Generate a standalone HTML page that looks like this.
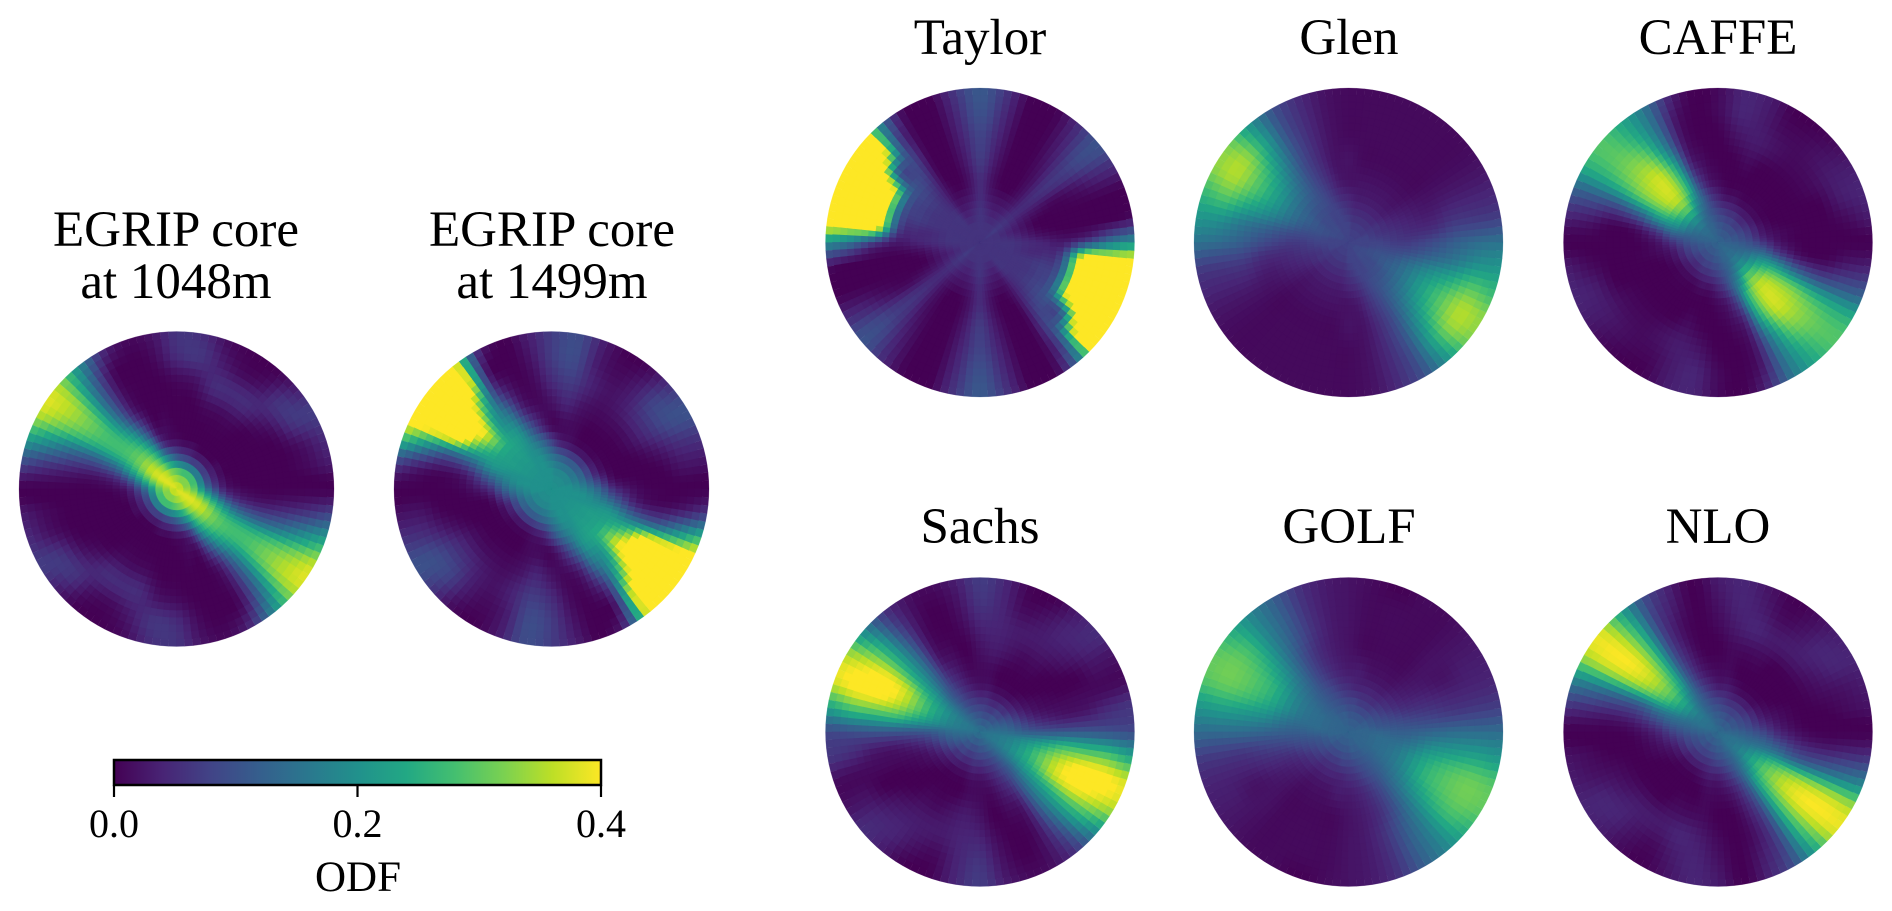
<!DOCTYPE html>
<html>
<head>
<meta charset="utf-8">
<title>ODF comparison</title>
<style>
html,body{margin:0;padding:0;background:#fff;width:1892px;height:911px;overflow:hidden}
svg{display:block}
text{font-family:"Liberation Serif",serif;fill:#000;text-anchor:middle}
.title{font-size:51px}
.tick{font-size:40px}
</style>
</head>
<body>
<svg id="figure" width="1892" height="911" viewBox="0 0 1892 911" xmlns="http://www.w3.org/2000/svg">
  <defs>
    <linearGradient id="viridisGrad" x1="0" x2="1" y1="0" y2="0"></linearGradient>
  </defs>
  <g>
    <text class="title" x="176" y="246">EGRIP core</text>
    <text class="title" x="176" y="298">at 1048m</text>
    <g id="egrip1048"></g>
  </g>
  <g>
    <text class="title" x="552" y="246">EGRIP core</text>
    <text class="title" x="552" y="298">at 1499m</text>
    <g id="egrip1499"></g>
  </g>
  <g>
    <text class="title" x="980" y="54">Taylor</text>
    <g id="taylor"></g>
  </g>
  <g>
    <text class="title" x="1349" y="54">Glen</text>
    <g id="glen"></g>
  </g>
  <g>
    <text class="title" x="1718" y="54">CAFFE</text>
    <g id="caffe"></g>
  </g>
  <g>
    <text class="title" x="980" y="543">Sachs</text>
    <g id="sachs"></g>
  </g>
  <g>
    <text class="title" x="1349" y="543">GOLF</text>
    <g id="golf"></g>
  </g>
  <g>
    <text class="title" x="1718" y="543">NLO</text>
    <g id="nlo"></g>
  </g>
  <g id="colorbar">
    <rect x="114" y="760" width="487" height="25" fill="url(#viridisGrad)" stroke="#000" stroke-width="2.5"></rect>
    <text x="358" y="891" style="font-size:43px">ODF</text>
  </g>
</svg>
<script>
// Colour scale
const viridisStops = ["#440154","#482475","#414487","#355f8d","#2a788e","#21918c","#22a884","#44bf70","#7ad151","#bddf26","#fde725"];
const colorbarTicks = [0.0, 0.2, 0.4];
const colorbarTickLabels = ["0.0", "0.2", "0.4"];
const odfMax = 0.4;

// Radial sampling of the tables below, as a fraction of disc radius.
const rhoKnots = [0, 0.1, 0.2, 0.3, 0.4, 0.55, 0.7, 0.85, 1];

// ODF values in hundredths. Each row is a direction (0,10,...,170 degrees, antipodally repeated),
// each column a radius from rhoKnots (after the centre).
const egrip1048Center = 38;
const egrip1048 = [
[32,15,4,1,0,0,0,0],[31,11,2,0,0,0,1,3],[30,9,1,0,0,0,2,5],[30,8,1,0,0,1,6,7],[30,8,0,0,0,3,6,3],[30,8,0,0,1,5,2,0],
[30,8,0,0,1,5,1,0],[30,9,1,0,1,5,3,1],[31,10,1,0,0,2,6,5],[32,12,2,0,0,1,5,6],[33,16,3,1,0,0,1,2],[34,21,8,2,0,0,0,1],
[36,28,20,12,4,2,2,6],[37,33,28,23,16,14,16,21],[38,36,31,28,27,30,34,36],[38,35,29,26,26,29,33,37],[36,30,22,15,12,14,19,24],[34,23,11,5,3,4,6,9]];

const egrip1499Center = 20;
const egrip1499 = [
[20,18,13,5,1,0,0,0],[20,16,8,1,0,0,2,2],[19,14,4,0,0,2,5,6],[19,13,3,0,1,5,9,10],[19,12,2,0,1,5,8,6],[19,12,2,0,1,3,3,1],
[19,12,2,0,1,2,1,0],[19,13,3,1,2,4,3,3],[19,14,4,1,4,7,9,9],[20,16,8,1,2,5,7,7],[20,18,13,5,1,1,2,3],[20,20,17,12,4,1,0,0],
[20,20,20,20,15,8,5,8],[20,21,22,23,22,30,45,45],[20,21,22,25,38,50,50,50],[20,21,22,23,30,50,50,50],[20,20,20,20,15,15,22,30],[20,20,17,12,4,2,4,8]];

const taylorCenter = 6;
const taylor = [
[6,6,5,4,3,9,16,20],[6,5,3,1,0,0,0,1],[6,4,2,0,0,0,0,0],[6,5,3,2,1,2,4,5],[7,6,5,5,6,7,9,10],[6,5,3,2,2,3,4,5],
[6,4,2,0,0,0,0,0],[6,4,2,0,0,0,0,0],[6,5,3,2,3,4,5,6],[6,6,5,5,7,8,10,11],[6,5,3,2,3,4,5,6],[6,4,2,0,0,0,0,0],
[6,4,2,1,0,0,0,0],[6,6,5,5,7,9,12,16],[6,6,6,7,10,14,50,50],[6,6,6,7,13,50,50,50],[6,6,6,7,12,50,50,50],[6,6,5,5,10,50,50,50]];

const glenCenter = 8;
const glen = [
[8,8,7,7,9,12,14,15],[8,7,6,5,5,7,7,7],[8,6,5,4,3,4,4,4],[7,6,4,3,2,2,2,2],[7,5,3,2,1,1,1,1],[7,5,3,2,1,1,1,1],
[7,5,3,2,1,1,1,1],[7,5,3,2,1,1,1,1],[7,5,3,2,1,1,1,1],[8,6,4,2,2,1,1,1],[8,7,5,3,2,2,2,2],[8,8,7,6,5,5,5,5],
[8,8,9,9,9,10,10,10],[9,9,10,12,15,19,22,20],[9,9,11,14,20,27,33,31],[9,10,12,15,22,29,35,33],[9,10,11,14,19,24,29,27],[8,9,9,10,13,16,20,21]];

const caffeCenter = 13;
const caffe = [
[12,10,6,2,0,0,0,0],[11,8,3,1,0,0,1,3],[11,7,2,0,0,0,3,4],[10,6,1,0,0,1,3,3],[10,5,1,0,0,1,2,1],[10,5,1,0,0,1,1,0],
[10,6,1,0,0,2,1,0],[10,6,2,0,1,3,3,3],[11,7,2,0,0,2,4,4],[11,8,4,1,0,0,1,1],[12,10,7,3,1,0,0,0],[13,12,13,10,5,3,3,5],
[13,15,20,26,24,18,16,16],[14,18,29,35,36,31,26,24],[14,19,29,36,36,33,30,29],[14,17,25,30,30,27,25,25],[13,15,19,19,13,10,11,12],[13,12,12,7,2,1,3,4]];

const sachsCenter = 15;
const sachs = [
[15,14,12,11,11,11,10,9],[14,12,8,5,3,3,5,6],[13,10,5,2,1,1,1,1],[12,8,3,1,0,0,2,2],[11,6,2,0,0,2,4,5],[11,6,1,0,1,3,4,3],
[10,5,1,0,1,3,2,0],[10,5,1,0,2,3,1,0],[10,6,2,1,3,4,4,4],[11,6,2,1,2,4,6,7],[11,7,3,1,0,1,2,3],[12,8,5,3,1,0,0,1],
[13,10,8,6,3,2,2,2],[14,13,12,13,14,13,10,7],[15,16,18,21,24,26,25,20],[16,18,22,27,36,40,38,35],[16,18,22,28,36,41,41,38],[16,17,19,22,27,28,28,24]];

const golfCenter = 13;
const golf = [
[13,13,12,12,13,14,14,14],[13,11,10,9,8,7,7,7],[12,10,8,6,5,4,4,4],[12,9,6,4,3,2,3,3],[11,8,5,3,2,2,2,2],[11,7,4,2,1,1,1,1],
[11,7,4,2,1,1,1,1],[11,7,4,2,1,1,1,0],[11,8,4,3,1,1,1,1],[11,8,5,3,2,2,2,2],[12,9,6,4,3,3,3,3],[12,10,8,6,5,6,6,6],
[12,11,10,9,9,11,12,12],[13,12,12,13,15,17,18,18],[13,13,14,16,21,25,27,25],[13,14,15,18,25,29,31,30],[13,14,15,18,24,28,30,29],[13,14,14,15,19,21,22,21]];

const nloCenter = 14;
const nlo = [
[13,11,8,4,1,0,0,0],[12,9,5,2,0,0,1,2],[11,8,3,1,0,1,2,3],[11,7,2,0,0,2,4,4],[11,6,1,0,0,3,4,3],[10,6,1,0,0,3,2,1],
[10,6,1,0,1,3,1,0],[11,6,2,0,1,4,3,2],[11,7,3,1,1,3,4,4],[12,8,3,1,0,1,2,3],[12,9,5,2,0,0,0,0],[13,11,8,5,3,2,3,4],
[14,13,13,12,10,9,9,10],[15,16,19,24,27,28,27,24],[15,18,24,30,36,39,39,38],[15,17,22,27,32,35,36,35],[15,15,16,16,13,14,16,18],[14,13,12,9,5,4,5,6]];

const SVG_NS = "http://www.w3.org/2000/svg";
const THETA_CELLS = 120;
const RHO_CELLS = 22;

function hexToRgb(h){return [parseInt(h.slice(1,3),16),parseInt(h.slice(3,5),16),parseInt(h.slice(5,7),16)];}
const viridisRgb = viridisStops.map(hexToRgb);

function colorOf(odf){
  const t = Math.max(0, Math.min(1, odf / odfMax)) * (viridisRgb.length - 1);
  const i = Math.min(viridisRgb.length - 2, Math.floor(t));
  const f = t - i;
  const a = viridisRgb[i], b = viridisRgb[i + 1];
  return "rgb(" + Math.round(a[0] + (b[0] - a[0]) * f) + "," + Math.round(a[1] + (b[1] - a[1]) * f) + "," + Math.round(a[2] + (b[2] - a[2]) * f) + ")";
}

function cubic(p0, p1, p2, p3, t){
  return 0.5 * (2 * p1 + (p2 - p0) * t + (2 * p0 - 5 * p1 + 4 * p2 - p3) * t * t + (3 * p1 - p0 - 3 * p2 + p3) * t * t * t);
}

function rhoIndex(rho){
  let k = 0;
  while (k < rhoKnots.length - 2 && rho > rhoKnots[k + 1]) k++;
  return k + (rho - rhoKnots[k]) / (rhoKnots[k + 1] - rhoKnots[k]);
}

function radialAt(grid, center, row, ri){
  const n = grid.length;
  const r = ((row % n) + n) % n;
  const last = rhoKnots.length - 1;
  const at = function(k){
    const c = Math.max(0, Math.min(last, k));
    return c === 0 ? center : grid[r][c - 1];
  };
  const k = Math.min(last - 1, Math.floor(ri));
  const f = ri - k;
  if (k === 0) return at(0) + (at(1) - at(0)) * f;
  return cubic(at(k - 1), at(k), at(k + 1), at(k + 2), f);
}

function sampleGrid(grid, center, thetaDeg, rho){
  const t = (((thetaDeg % 180) + 180) % 180) / (180 / grid.length);
  const i = Math.floor(t);
  const ft = t - i;
  const ri = rhoIndex(rho);
  const v = cubic(
    radialAt(grid, center, i - 1, ri),
    radialAt(grid, center, i, ri),
    radialAt(grid, center, i + 1, ri),
    radialAt(grid, center, i + 2, ri),
    ft);
  return Math.max(0, v) / 100;
}

function drawMap(groupId, grid, center, cx, cy, R){
  const g = document.getElementById(groupId);
  const pt = function(r, deg){
    const a = deg * Math.PI / 180;
    return (cx + r * R * Math.cos(a)).toFixed(2) + " " + (cy - r * R * Math.sin(a)).toFixed(2);
  };
  for (let it = 0; it < THETA_CELLS; it++){
    const d0 = it * 360 / THETA_CELLS, d1 = (it + 1) * 360 / THETA_CELLS;
    for (let ir = 0; ir < RHO_CELLS; ir++){
      const r0 = ir / RHO_CELLS, r1 = (ir + 1) / RHO_CELLS;
      const v = sampleGrid(grid, center, (d0 + d1) / 2, (r0 + r1) / 2);
      const col = colorOf(v);
      const p = document.createElementNS(SVG_NS, "path");
      p.setAttribute("d", "M" + pt(r0, d0) + "L" + pt(r1, d0) + "L" + pt(r1, d1) + "L" + pt(r0, d1) + "Z");
      p.setAttribute("fill", col);
      p.setAttribute("stroke", col);
      p.setAttribute("stroke-width", ir === RHO_CELLS - 1 ? "0.2" : "0.7");
      
      
      g.appendChild(p);
    }
  }
}

const leftR = 157.5, rightR = 154.5;
drawMap("egrip1048", egrip1048, egrip1048Center, 176.5, 489, leftR);
drawMap("egrip1499", egrip1499, egrip1499Center, 551.5, 489, leftR);
drawMap("taylor", taylor, taylorCenter, 980, 242.5, rightR);
drawMap("glen", glen, glenCenter, 1348.5, 242.5, rightR);
drawMap("caffe", caffe, caffeCenter, 1718, 242.5, rightR);
drawMap("sachs", sachs, sachsCenter, 980, 732, rightR);
drawMap("golf", golf, golfCenter, 1348.5, 732, rightR);
drawMap("nlo", nlo, nloCenter, 1718, 732, rightR);

// Colorbar
const grad = document.getElementById("viridisGrad");
viridisStops.forEach(function(c, i){
  const s = document.createElementNS(SVG_NS, "stop");
  s.setAttribute("offset", (i / (viridisStops.length - 1)));
  s.setAttribute("stop-color", c);
  grad.appendChild(s);
});
function cbX(v){ return 114 + v / odfMax * 487; }
const cb = document.getElementById("colorbar");
colorbarTicks.forEach(function(v, i){
  const l = document.createElementNS(SVG_NS, "line");
  l.setAttribute("x1", cbX(v));
  l.setAttribute("x2", cbX(v));
  l.setAttribute("y1", 785);
  l.setAttribute("y2", 797);
  l.setAttribute("stroke", "#000");
  l.setAttribute("stroke-width", "2.2");
  
  
  cb.appendChild(l);
  const t = document.createElementNS(SVG_NS, "text");
  t.setAttribute("x", cbX(v));
  t.setAttribute("y", 837);
  t.setAttribute("class", "tick");
  t.textContent = colorbarTickLabels[i];
  
  
  cb.appendChild(t);
});
</script>
</body>
</html>
